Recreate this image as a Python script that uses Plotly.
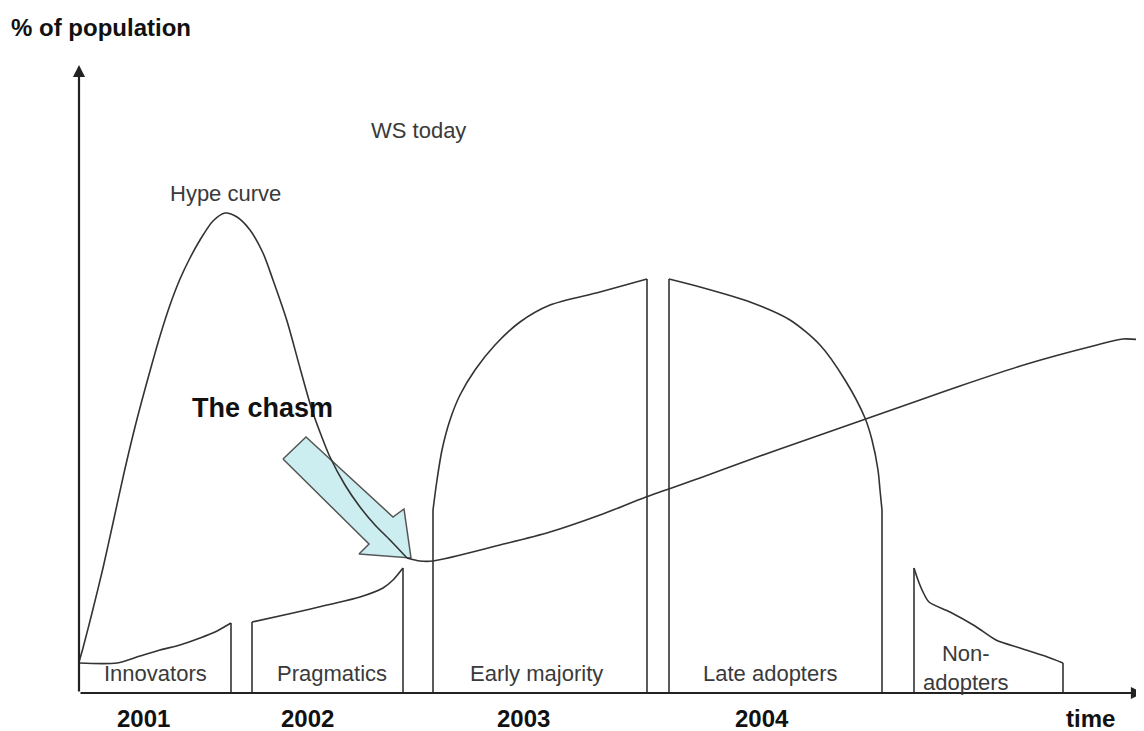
import plotly.graph_objects as go

# ---- data (time units on x, % of population units on y; origin at axes corner) ----
hype_x = [0, 4, 13, 24, 34, 45, 57, 71, 81, 91, 101, 111, 121, 134, 146, 158, 171, 184, 194, 208, 221, 233, 244, 251, 266, 281, 296, 311, 328]
hype_y = [31, 45, 80, 125, 170, 220, 270, 322, 357, 388, 414, 435, 453, 472, 480, 476, 463, 440, 413, 372, 325, 283, 253, 236, 208, 186, 168, 153, 135]

adopt_x = [328, 341, 354, 421, 471, 521, 567, 621, 681, 721, 761, 801, 841, 881, 948, 1014, 1044, 1064]
adopt_y = [135, 132, 132, 148, 161, 178, 196, 215, 237, 251, 265, 279, 293, 307, 329, 347, 354, 353]

# top edges of the adopter segments (each drops vertically to the time axis at both ends)
innov_x = [0, 38, 61, 81, 101, 121, 136, 152]
innov_y = [30, 30, 37, 43, 48, 55, 61, 70]

prag_x = [173, 214, 248, 281, 304, 314, 324]
prag_y = [71, 80, 88, 96, 105, 113, 125]

early_x = [354, 358, 363, 371, 381, 396, 416, 441, 471, 521, 568]
early_y = [183, 213, 243, 273, 298, 323, 348, 371, 388, 401, 414]

late_x = [590, 621, 671, 711, 741, 766, 786, 793, 799, 801, 803]
late_y = [414, 406, 391, 373, 348, 313, 275, 253, 223, 203, 183]

non_x = [835, 839, 844, 850, 871, 896, 917, 941, 966, 984]
non_y = [125, 113, 101, 91, 81, 67, 53, 45, 37, 30]

chasm_arrow_x = [204, 227, 314, 325, 332, 280, 290, 204]
chasm_arrow_y = [234, 256, 176, 184, 135, 139, 149, 234]

segment_labels = ["Innovators", "Pragmatics", "Early majority", "Late adopters", "Non-<br>adopters"]
segment_label_x = [76, 253, 457, 691, 887]
segment_label_y = [20, 20, 20, 20, 25]

year_labels = ["2001", "2002", "2003", "2004", "time"]
year_label_x = [64, 228, 444, 683, 1011]

x_max = 1064
y_max = 628

# ---- figure ----
LINE = "#333333"
FONT = "Liberation Sans, Arial, sans-serif"

fig = go.Figure()

fig.add_trace(go.Scatter(x=chasm_arrow_x, y=chasm_arrow_y, mode="lines", fill="toself",
                         fillcolor="#cdeef0", line=dict(color="#555555", width=1.5),
                         hoverinfo="skip"))

for i, (xs, ys) in enumerate([(innov_x, innov_y), (prag_x, prag_y), (early_x, early_y),
                              (late_x, late_y), (non_x, non_y)]):
    fig.add_trace(go.Scatter(x=xs, y=ys, mode="lines",
                             line=dict(color=LINE, width=1.6, shape="spline", smoothing=0.8),
                             hoverinfo="skip"))
    # vertical edges down to the time axis
    ends = [-1] if i == 0 else [0, -1]
    for e in ends:
        fig.add_trace(go.Scatter(x=[xs[e], xs[e]], y=[0, ys[e]], mode="lines",
                                 line=dict(color=LINE, width=1.6), hoverinfo="skip"))

fig.add_trace(go.Scatter(x=hype_x, y=hype_y, mode="lines",
                         line=dict(color=LINE, width=1.6, shape="spline", smoothing=0.8),
                         hoverinfo="skip"))
fig.add_trace(go.Scatter(x=adopt_x, y=adopt_y, mode="lines",
                         line=dict(color=LINE, width=1.6, shape="spline", smoothing=0.8),
                         hoverinfo="skip"))

# axes with arrowheads
fig.add_annotation(x=0, y=y_max, ax=0, ay=0, xref="x", yref="y", axref="x", ayref="y",
                   showarrow=True, arrowhead=2, arrowsize=1.1, arrowwidth=2.2,
                   arrowcolor="#222222", text="")
fig.add_annotation(x=x_max, y=0, ax=0, ay=0, xref="x", yref="y", axref="x", ayref="y",
                   showarrow=True, arrowhead=2, arrowsize=1.1, arrowwidth=2.2,
                   arrowcolor="#222222", text="")

fig.add_annotation(x=-70, y=666, text="<b>% of population</b>", showarrow=False,
                   xanchor="left", font=dict(family=FONT, size=24, color="#111111"))
fig.add_annotation(x=339, y=563, text="WS today", showarrow=False,
                   font=dict(family=FONT, size=22, color="#3a3a3a"))
fig.add_annotation(x=146, y=500, text="Hype curve", showarrow=False,
                   font=dict(family=FONT, size=22, color="#3a3a3a"))
fig.add_annotation(x=183, y=285, text="<b>The chasm</b>", showarrow=False,
                   font=dict(family=FONT, size=27, color="#111111"))

for lab, lx, ly in zip(segment_labels, segment_label_x, segment_label_y):
    fig.add_annotation(x=lx, y=ly, text=lab, showarrow=False,
                       font=dict(family=FONT, size=22, color="#3a3a3a"))

for lab, lx in zip(year_labels, year_label_x):
    fig.add_annotation(x=lx, y=-25, text="<b>" + lab + "</b>", showarrow=False,
                       font=dict(family=FONT, size=24, color="#111111"))

# page has an 8px body margin: figure sized so the picture lines up with the window
fig.update_layout(
    width=1136, height=723,
    margin=dict(l=0, r=0, t=0, b=0),
    paper_bgcolor="white", plot_bgcolor="white",
    showlegend=False,
    xaxis=dict(range=[-71, 1065], visible=False, fixedrange=True),
    yaxis=dict(range=[-38, 685], visible=False, fixedrange=True),
)

fig.write_html("out.html")
